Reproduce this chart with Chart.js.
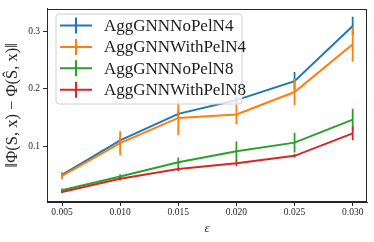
<!DOCTYPE html>
<html lang="en">
<head>
  <meta charset="UTF-8">
  <title>AggGNN error vs epsilon</title>
  <script src="https://cdn.jsdelivr.net/npm/chart.js"></script>
  <style>
    html, body { margin: 0; padding: 0; background: #ffffff; }
    .chart-container { width: 374px; height: 242px; position: relative; }
  </style>
</head>
<body>

<div class="chart-container">
  <canvas id="errChart"></canvas>
</div>

<script>
  // values
  const eps = [0.005, 0.010, 0.015, 0.020, 0.025, 0.030];
  const xTicks = [0.005, 0.010, 0.015, 0.020, 0.025, 0.030];
  const xTickLabels = ['0.005', '0.010', '0.015', '0.020', '0.025', '0.030'];
  const yTicks = [0.1, 0.2, 0.3];
  const yTickLabels = ['0.1', '0.2', '0.3'];

  const seriesNames = ['AggGNNNoPelN4', 'AggGNNWithPelN4', 'AggGNNNoPelN8', 'AggGNNWithPelN8'];
  const seriesColors = ['#1f77b4', '#ff7f0e', '#2ca02c', '#d62728'];

  const noPelN4 = [0.050, 0.110, 0.156, 0.180, 0.213, 0.309];
  const noPelN4Err = [0.004, 0.006, 0.005, 0.006, 0.016, 0.016];
  const withPelN4 = [0.048, 0.105, 0.149, 0.155, 0.194, 0.277];
  const withPelN4Err = [0.006, 0.021, 0.030, 0.017, 0.023, 0.030];
  const noPelN8 = [0.023, 0.047, 0.072, 0.091, 0.106, 0.146];
  const noPelN8Err = [0.003, 0.004, 0.008, 0.017, 0.017, 0.019];
  const withPelN8 = [0.020, 0.043, 0.060, 0.070, 0.083, 0.122];
  const withPelN8Err = [0.002, 0.003, 0.004, 0.005, 0.003, 0.012];

  const allValues = [noPelN4, withPelN4, noPelN8, withPelN8];
  const allErrors = [noPelN4Err, withPelN4Err, noPelN8Err, withPelN8Err];

  const serif = "'Liberation Serif', 'DejaVu Serif', serif";
  const axisColor = '#262626';

  // vertical error bars, drawn right after each line so the stacking matches
  const errorBars = {
    id: 'errorBars',
    afterDatasetDraw(chart, args) {
      const ds = chart.data.datasets[args.index];
      const xs = chart.scales.x, ys = chart.scales.y;
      const area = chart.chartArea;
      const c = chart.ctx;
      c.save();
      c.beginPath();
      c.rect(area.left, area.top, area.right - area.left, area.bottom - area.top);
      c.clip();
      c.strokeStyle = ds.borderColor;
      c.lineWidth = 1.8;
      c.beginPath();
      ds.data.forEach((p, i) => {
        const px = xs.getPixelForValue(p.x);
        c.moveTo(px, ys.getPixelForValue(p.y - ds.errors[i]));
        c.lineTo(px, ys.getPixelForValue(p.y + ds.errors[i]));
      });
      c.stroke();
      c.restore();
    }
  };

  // full box round the plot + matplotlib style legend
  const frameAndLegend = {
    id: 'frameAndLegend',
    afterDraw(chart) {
      const c = chart.ctx;
      const a = chart.chartArea;
      c.save();
      c.strokeStyle = axisColor;
      c.lineWidth = 1;
      c.strokeRect(Math.round(a.left) + 0.5, Math.round(a.top) + 0.5,
        Math.round(a.right - a.left) - 1, Math.round(a.bottom - a.top) - 1);

      // legend box
      const bx = 56, by = 14, bw = 186, bh = 90, r = 3;
      c.beginPath();
      c.moveTo(bx + r, by);
      c.arcTo(bx + bw, by, bx + bw, by + bh, r);
      c.arcTo(bx + bw, by + bh, bx, by + bh, r);
      c.arcTo(bx, by + bh, bx, by, r);
      c.arcTo(bx, by, bx + bw, by, r);
      c.closePath();
      c.fillStyle = 'rgba(255,255,255,0.8)';
      c.fill();
      c.strokeStyle = '#d0d0d0';
      c.stroke();

      c.font = '17px ' + serif;
      c.textBaseline = 'middle';
      chart.data.datasets.forEach((ds, i) => {
        const yc = 25.5 + i * 21.4;
        c.strokeStyle = ds.borderColor;
        c.lineWidth = 2;
        c.beginPath();
        c.moveTo(60, yc);
        c.lineTo(92, yc);
        c.moveTo(76, yc - 8);
        c.lineTo(76, yc + 8);
        c.stroke();
        c.fillStyle = '#1a1a1a';
        c.fillText(ds.label, 104, yc + 1);
      });
      c.restore();
    }
  };

  const datasets = seriesNames.map((name, i) => ({
    label: name,
    data: eps.map((e, j) => ({ x: e, y: allValues[i][j] })),
    errors: allErrors[i],
    borderColor: seriesColors[i],
    backgroundColor: seriesColors[i],
    borderWidth: 2,
    pointRadius: 0,
    tension: 0,
    order: seriesNames.length - i
  }));

  const ctx = document.getElementById('errChart').getContext('2d');
  const errChart = new Chart(ctx, {
    type: 'line',
    data: { datasets: datasets },
    plugins: [errorBars, frameAndLegend],
    options: {
      responsive: true,
      maintainAspectRatio: false,
      animation: false,
      layout: { padding: { top: 6, right: 7, left: 0, bottom: 0 } },
      plugins: {
        legend: { display: false },
        tooltip: { enabled: false }
      },
      scales: {
        x: {
          type: 'linear',
          min: 0.00371,
          max: 0.03123,
          afterBuildTicks: s => { s.ticks = xTicks.map(v => ({ value: v })); },
          afterFit: s => { s.height = 40; },
          ticks: {
            callback: (v, i) => xTickLabels[i],
            maxRotation: 0,
            autoSkip: false,
            padding: 1,
            color: axisColor,
            font: { family: serif, size: 9.5 }
          },
          grid: { drawOnChartArea: false, drawTicks: true, tickLength: 4, color: axisColor },
          border: { color: axisColor, width: 1 },
          title: {
            display: true,
            text: 'ε',
            color: axisColor,
            font: { family: serif, size: 13, style: 'italic' },
            padding: { top: 0, bottom: 6 }
          }
        },
        y: {
          type: 'linear',
          min: 0.0027,
          max: 0.339,
          afterBuildTicks: s => { s.ticks = yTicks.map(v => ({ value: v })); },
          afterFit: s => { s.width = 47; },
          ticks: {
            callback: (v, i) => yTickLabels[i],
            autoSkip: false,
            padding: 3,
            color: axisColor,
            font: { family: serif, size: 9.5 }
          },
          grid: { drawOnChartArea: false, drawTicks: true, tickLength: 4, color: axisColor },
          border: { color: axisColor, width: 1 },
          title: {
            display: true,
            text: '‖Φ(S, x) − Φ(Ŝ, x)‖',
            color: axisColor,
            font: { family: serif, size: 16.5 },
            padding: { top: 3, bottom: 0 }
          }
        }
      }
    }
  });
</script>

</body>
</html>
